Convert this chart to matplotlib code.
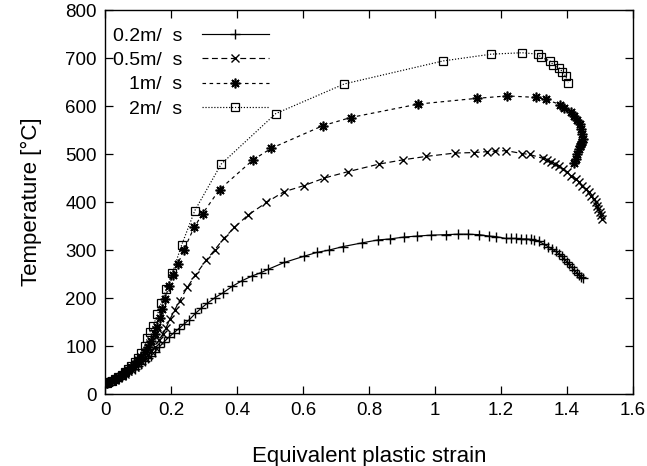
import matplotlib
matplotlib.use("Agg")
import matplotlib.pyplot as plt

plt.rcParams['font.family'] = ['Liberation Sans', 'DejaVu Sans']

labels = ["0.2m/  s", "0.5m/  s", "1m/  s", "2m/  s"]

strain_02 = [0, 0.005, 0.01, 0.015, 0.02, 0.03, 0.04, 0.05, 0.06, 0.07, 0.08, 0.09, 0.10, 0.11, 0.12,
             0.13, 0.14, 0.15, 0.163, 0.178, 0.193, 0.208, 0.223, 0.240, 0.256, 0.274, 0.292, 0.310,
             0.334, 0.358, 0.385, 0.415, 0.446, 0.473, 0.495, 0.543, 0.603, 0.642, 0.68, 0.72, 0.78,
             0.827, 0.863, 0.906, 0.946, 0.988, 1.034, 1.069, 1.099, 1.134, 1.164, 1.184, 1.215, 1.23,
             1.245, 1.26, 1.275, 1.29, 1.30, 1.315, 1.330, 1.343, 1.355, 1.366, 1.376, 1.384, 1.391,
             1.399, 1.406, 1.414, 1.421, 1.429, 1.436, 1.443, 1.449]
temp_02 = [22, 23, 24, 26, 27, 30, 33, 37, 41, 45, 49, 53, 58, 63, 68,
           74, 80, 87, 97, 108, 118, 127, 136, 146, 155, 168, 179, 189,
           201, 211, 224, 236, 246, 253, 260, 274, 287, 295, 300, 307, 315,
           321, 323, 327, 329, 331, 332, 333, 333, 332, 329, 328, 324, 324,
           324, 323, 323, 322, 321, 318, 312, 307, 302, 297, 292, 287, 281,
           276, 271, 264, 258, 253, 248, 244, 241]

strain_05 = [0, 0.005, 0.01, 0.02, 0.03, 0.04, 0.05, 0.06, 0.07, 0.08, 0.09, 0.10, 0.11, 0.12, 0.13,
             0.14, 0.15, 0.163, 0.175, 0.185, 0.197, 0.211, 0.226, 0.249, 0.274, 0.307, 0.332, 0.360,
             0.392, 0.432, 0.489, 0.541, 0.602, 0.665, 0.735, 0.830, 0.904, 0.973, 1.061, 1.118, 1.159,
             1.183, 1.215, 1.264, 1.287, 1.327, 1.338, 1.350, 1.363, 1.376, 1.388, 1.401, 1.413, 1.426,
             1.436, 1.446, 1.456, 1.466, 1.474, 1.481, 1.487, 1.491, 1.495, 1.499, 1.502, 1.505]
temp_05 = [22, 23, 24, 27, 30, 34, 38, 42, 47, 52, 57, 62, 68, 74, 81,
           89, 98, 112, 125, 138, 156, 175, 194, 222, 248, 279, 300, 324,
           347, 372, 399, 421, 434, 450, 463, 479, 488, 495, 502, 503, 505,
           506, 507, 501, 499, 491, 487, 483, 479, 474, 468, 462, 455, 448,
           441, 434, 427, 420, 413, 406, 399, 392, 386, 379, 372, 365]

strain_1 = [0, 0.005, 0.01, 0.02, 0.03, 0.04, 0.05, 0.06, 0.07, 0.08, 0.09, 0.10, 0.11, 0.12, 0.13,
            0.14, 0.15, 0.158, 0.166, 0.173, 0.182, 0.193, 0.207, 0.221, 0.238, 0.270, 0.296, 0.347,
            0.449, 0.504, 0.660, 0.744, 0.949, 1.127, 1.218, 1.306, 1.335, 1.379, 1.391, 1.413, 1.422,
            1.431, 1.439, 1.443, 1.446, 1.447, 1.446, 1.443, 1.440, 1.436, 1.431, 1.426, 1.421]
temp_1 = [22, 23, 24, 27, 31, 35, 40, 45, 51, 57, 63, 70, 78, 87, 97,
          110, 125, 140, 158, 177, 197, 225, 248, 271, 299, 347, 376, 426,
          488, 512, 559, 576, 604, 616, 621, 618, 614, 603, 596, 587, 579,
          571, 563, 553, 542, 532, 526, 521, 516, 511, 500, 490, 482]

strain_2 = [0, 0.005, 0.01, 0.02, 0.03, 0.04, 0.05, 0.06, 0.07, 0.08, 0.09, 0.10, 0.11, 0.12, 0.128,
            0.136, 0.146, 0.159, 0.170, 0.186, 0.204, 0.232, 0.272, 0.352, 0.517, 0.725, 1.025, 1.170,
            1.264, 1.313, 1.320, 1.348, 1.358, 1.377, 1.386, 1.396, 1.404]
temp_2 = [22, 23, 24, 27, 31, 35, 40, 46, 52, 59, 67, 75, 86, 100, 116,
          129, 142, 166, 189, 219, 252, 310, 382, 479, 584, 646, 694, 708,
          711, 708, 702, 694, 686, 679, 671, 662, 648]

xticks = [0, 0.2, 0.4, 0.6, 0.8, 1, 1.2, 1.4, 1.6]
xtick_labels = ["0", "0.2", "0.4", "0.6", "0.8", "1", "1.2", "1.4", "1.6"]
yticks = [0, 100, 200, 300, 400, 500, 600, 700, 800]

fig = plt.figure(figsize=(6.47, 4.66), dpi=100)
ax = fig.add_axes([0.1623, 0.1545, 0.8161, 0.824])

lw = 0.85
ax.plot(strain_02, temp_02, color='black', lw=lw, linestyle='-', marker='+', ms=7.5, mew=1.0,
        label=labels[0])
ax.plot(strain_05, temp_05, color='black', lw=lw, linestyle=(0, (5, 3)), marker='x', ms=5.5, mew=1.0,
        label=labels[1])
ax.plot(strain_1, temp_1, color='black', lw=lw, linestyle=(0, (3, 3)), marker=(8, 2, 0), ms=7, mew=1.2,
        label=labels[2])
ax.plot(strain_2, temp_2, color='black', lw=lw, linestyle=(0, (1, 1.5)), marker='s', ms=5.5, mew=0.9,
        mfc='none', label=labels[3])

ax.set_xlim(0, 1.6)
ax.set_ylim(0, 800)
ax.set_xticks(xticks)
ax.set_xticklabels(xtick_labels)
ax.set_yticks(yticks)
ax.tick_params(direction='in', top=True, right=True, length=6, width=0.9, labelsize=13.5, pad=6)
for s in ax.spines.values():
    s.set_linewidth(1.0)

ax.set_xlabel("Equivalent plastic strain", fontsize=16, labelpad=19)
ax.set_ylabel("Temperature [°C]", fontsize=16, labelpad=17)

leg = ax.legend(loc='upper left', frameon=False, markerfirst=False, fontsize=14,
                handlelength=3.45, handletextpad=1.0, labelspacing=0.35,
                borderpad=0, borderaxespad=0, bbox_to_anchor=(0.015, 0.956))

fig.savefig("out.png", dpi=100)
